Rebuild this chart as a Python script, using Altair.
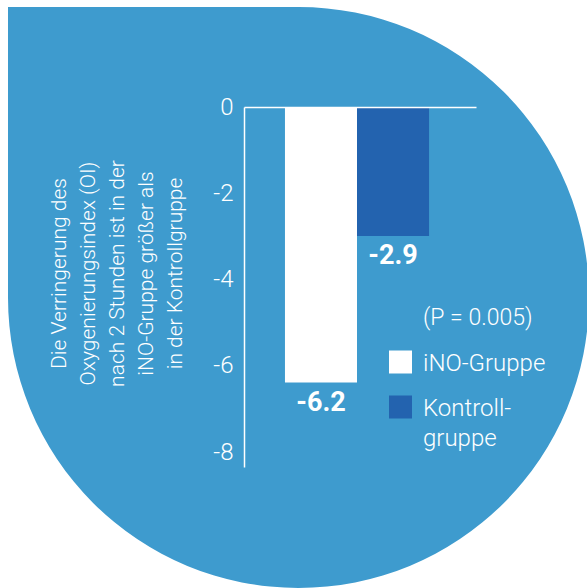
import math

import altair as alt
import pandas as pd

# Values and texts
groups = ["iNO-Gruppe", "Kontrollgruppe"]
legend_labels = ["iNO-Gruppe", "Kontroll-\ngruppe"]
values = [-6.2, -2.9]
tick_values = [0, -2, -4, -6, -8]
title_lines = [
    "Die Verringerung des",
    "Oxygenierungsindex (OI)",
    "nach 2 Stunden ist in der",
    "iNO-Gruppe größer als",
    "in der Kontrollgruppe",
]
p_note = ["(P = 0.005)"]

BLUE = "#3e9bce"
DARK = "#2363af"
BAR_COLORS = ["#ffffff", DARK]
FONT = "Roboto"

df = pd.DataFrame({"gruppe": groups, "wert": values})
df["label"] = [f"{v:.1f}" for v in values]

# plot area size and its offset inside the 587x588 canvas
W, H = 232, 360
LEFT, TOP = 244, 107

# rounded backdrop: three quarters of a disc plus a square top-left corner
one = pd.DataFrame({"k": [0]})
cx, cy, r = 298.5 - LEFT, 297.5 - TOP, 290.5
disc = alt.Chart(one).mark_arc(
    theta=0, theta2=1.5 * math.pi, radius=r, color=BLUE
).encode(x=alt.value(cx), y=alt.value(cy))
corner = alt.Chart(one).mark_rect(color=BLUE).encode(
    x=alt.value(8 - LEFT), x2=alt.value(cx + 1),
    y=alt.value(7 - TOP), y2=alt.value(cy + 1),
)

x_enc = alt.X(
    "gruppe:N",
    sort=groups,
    scale=alt.Scale(paddingInner=0, paddingOuter=0.61, align=0.466),
    axis=alt.Axis(
        orient="top", title=None, labels=False, ticks=False,
        domainColor="white", domainWidth=1.5, zindex=1,
    ),
)
y_enc = alt.Y(
    "wert:Q",
    scale=alt.Scale(domain=[-8.1, 0], nice=False, zero=False),
    axis=alt.Axis(
        values=tick_values,
        labelExpr="'' + datum.value",
        labelOffset={"expr": "datum.value * 1.3"},
        ticks=False, grid=False,
        domainColor="white", domainWidth=1.5,
        labelColor="white", labelFont=FONT, labelFontSize=24,
        labelFontWeight=300, labelPadding=11,
        title=title_lines, titleFont=FONT, titleFontSize=21,
        titleFontWeight=300, titleColor="white", titleLineHeight=29,
        titleAngle=270, titleAlign="center", titleBaseline="alphabetic",
        titleX=65 - LEFT, titleY=273 - TOP, zindex=1,
    ),
)

bars = alt.Chart(df).mark_bar(opacity=1).encode(
    x=x_enc,
    y=y_enc,
    color=alt.Color(
        "gruppe:N",
        scale=alt.Scale(domain=groups, range=BAR_COLORS),
        legend=None,
    ),
)

value_labels = alt.Chart(df).mark_text(
    baseline="top", dy=7, font=FONT, fontSize=27, fontWeight="bold", color="white"
).encode(x=alt.X("gruppe:N", sort=groups), y="wert:Q", text="label:N")

note = alt.Chart(pd.DataFrame({"t": p_note})).mark_text(
    align="left", baseline="middle", font=FONT, fontSize=23, fontWeight=300,
    color="white",
).encode(x=alt.value(423 - LEFT), y=alt.value(318 - TOP), text="t:N")

# legend: a square swatch and a label per group
legend_layers = []
for i, (name, colour) in enumerate(zip(legend_labels, BAR_COLORS)):
    row_y = 362 + 45 * i - TOP
    entry = pd.DataFrame({"t": [name]})
    legend_layers.append(
        alt.Chart(entry).mark_square(size=529, color=colour, opacity=1).encode(
            x=alt.value(400.5 - LEFT), y=alt.value(row_y)
        )
    )
    legend_layers.append(
        alt.Chart(entry).mark_text(
            align="left", baseline="alphabetic", lineBreak="\n", lineHeight=30,
            font=FONT, fontSize=24, fontWeight=300, color="white",
        ).encode(x=alt.value(423 - LEFT), y=alt.value(row_y + 8.5), text="t:N")
    )

chart = (
    alt.layer(corner, disc, bars, value_labels, note, *legend_layers)
    .properties(
        width=W,
        height=H,
        autosize=alt.AutoSizeParams(type="none"),
        padding={"left": LEFT, "top": TOP, "right": 587 - LEFT - W, "bottom": 588 - TOP - H},
        background="white",
    )
    .configure_view(stroke=None)
)

chart.save("out.html", embed_options={"renderer": "svg", "actions": False})
